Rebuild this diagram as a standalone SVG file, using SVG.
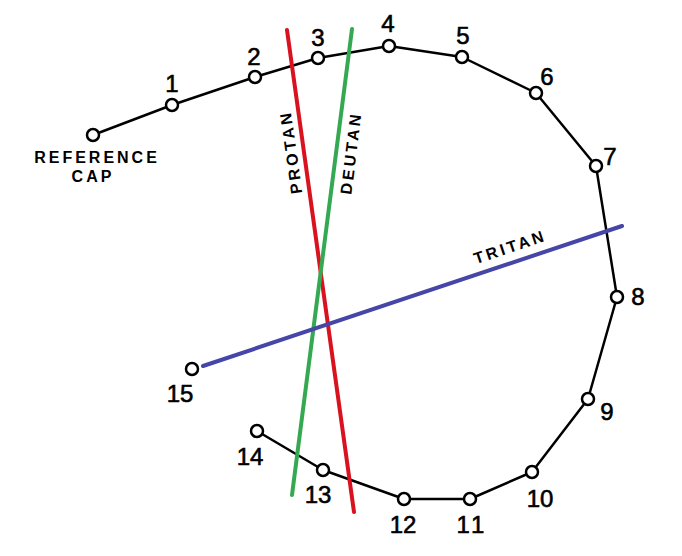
<svg xmlns="http://www.w3.org/2000/svg" width="682" height="556" viewBox="0 0 682 556">
<style>
.cap{fill:#fff;stroke:#000;stroke-width:2.5}
.num{font-family:"Liberation Sans",Arial,sans-serif;font-size:24px;fill:#000;stroke:#000;stroke-width:0.6;text-anchor:middle;dominant-baseline:central}
.lbl{font-family:"Liberation Sans",Arial,sans-serif;font-size:16px;font-weight:bold;fill:#000;text-anchor:middle;letter-spacing:3px;dominant-baseline:central}
.axis{stroke-width:4;stroke-linecap:round;fill:none}
</style>
<rect width="682" height="556" fill="#fff"/>
<g id="connectors">
<polyline points="93,135 172,105 255,77 318,58 389,46 462,57 536,93 596,166 617,297 588,399 532,472 470,499 404,499 323,470 257,431" fill="none" stroke="#000" stroke-width="2.5" stroke-linejoin="round"/>
<line id="protan-line" class="axis" x1="287" y1="30" x2="354" y2="512" stroke="#d9121f"/>
<line id="deutan-line" class="axis" x1="352" y1="29" x2="292" y2="495" stroke="#35a852"/>
<line id="tritan-line" class="axis" x1="203" y1="366" x2="622" y2="226" stroke="#4646a8"/>
</g>
<g id="ref"><circle class="cap" cx="93" cy="135" r="6"/><text class="lbl" x="97" y="157">REFERENCE</text><text class="lbl" x="93" y="176">CAP</text></g>
<g id="n1"><circle class="cap" cx="172" cy="105" r="6"/><text class="num" x="172" y="83">1</text></g>
<g id="n2"><circle class="cap" cx="255" cy="77" r="6"/><text class="num" x="254" y="56">2</text></g>
<g id="n3"><circle class="cap" cx="318" cy="58" r="6"/><text class="num" x="318" y="37">3</text></g>
<g id="n4"><circle class="cap" cx="389" cy="46" r="6"/><text class="num" x="388" y="23">4</text></g>
<g id="n5"><circle class="cap" cx="462" cy="57" r="6"/><text class="num" x="463" y="35">5</text></g>
<g id="n6"><circle class="cap" cx="536" cy="93" r="6"/><text class="num" x="547" y="76">6</text></g>
<g id="n7"><circle class="cap" cx="596" cy="166" r="6"/><text class="num" x="610" y="156">7</text></g>
<g id="n8"><circle class="cap" cx="617" cy="297" r="6"/><text class="num" x="638" y="296">8</text></g>
<g id="n9"><circle class="cap" cx="588" cy="399" r="6"/><text class="num" x="607" y="411">9</text></g>
<g id="n10"><circle class="cap" cx="532" cy="472" r="6"/><text class="num" x="540" y="498">10</text></g>
<g id="n11"><circle class="cap" cx="470" cy="499" r="6"/><text class="num" x="472" y="524" style="letter-spacing:3px">11</text></g>
<g id="n12"><circle class="cap" cx="404" cy="499" r="6"/><text class="num" x="403" y="524">12</text></g>
<g id="n13"><circle class="cap" cx="323" cy="470" r="6"/><text class="num" x="318" y="494">13</text></g>
<g id="n14"><circle class="cap" cx="257" cy="431" r="6"/><text class="num" x="250" y="456">14</text></g>
<g id="n15"><circle class="cap" cx="192" cy="369" r="6"/><text class="num" x="180" y="393">15</text></g>
<g id="protan"><text class="lbl" transform="translate(291,152) rotate(-98)">PROTAN</text></g>
<g id="deutan"><text class="lbl" transform="translate(351,153) rotate(-83)">DEUTAN</text></g>
<g id="tritan"><text class="lbl" transform="translate(510,247) rotate(-18.6)">TRITAN</text></g>
</svg>
